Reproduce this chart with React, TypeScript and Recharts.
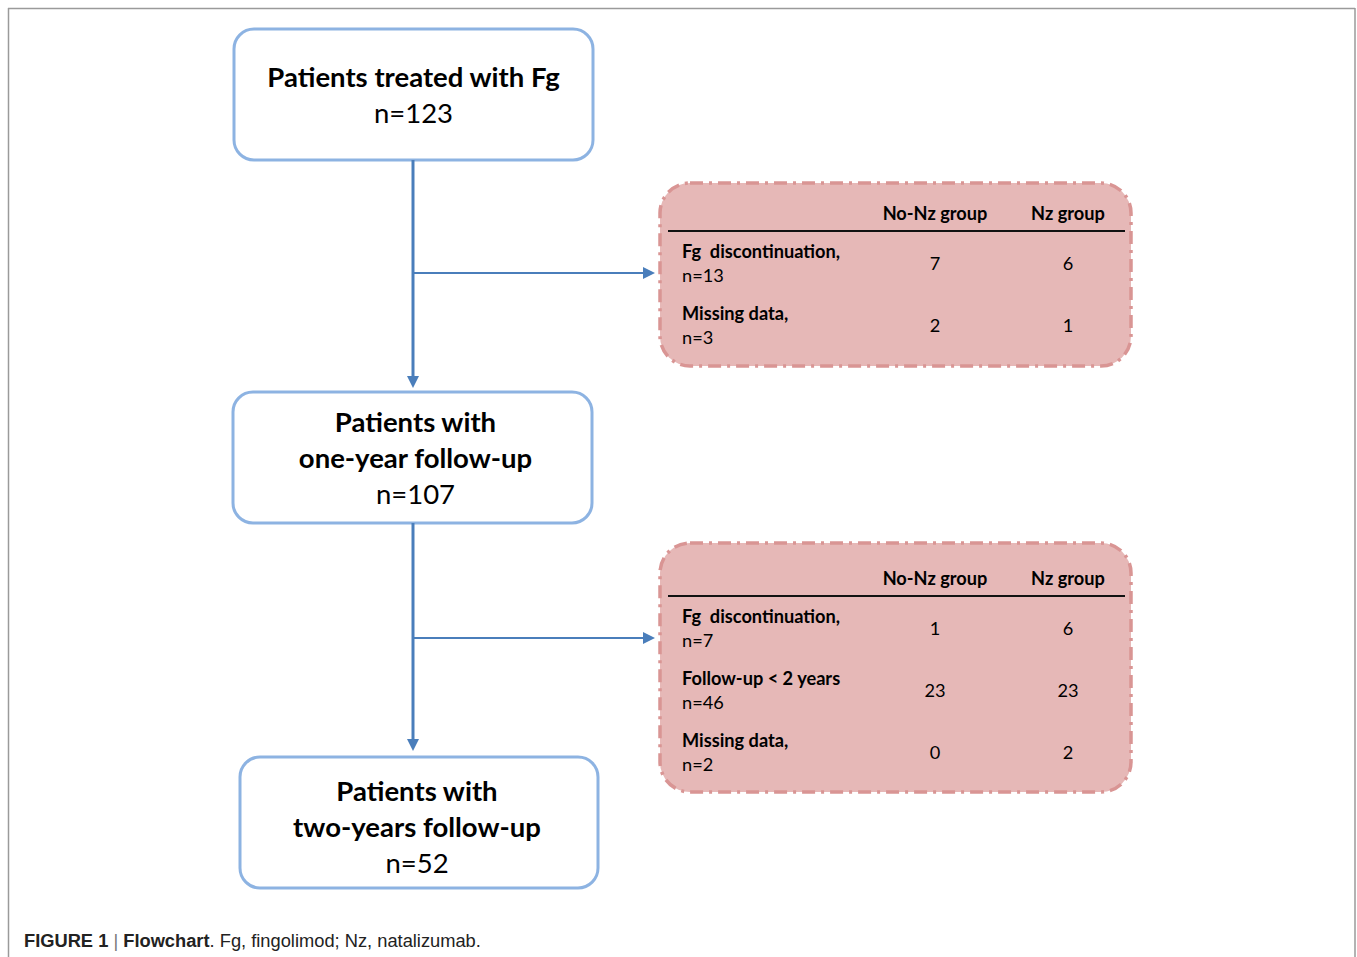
import React from "react";
import {
  ComposedChart,
  XAxis,
  YAxis,
  ReferenceArea,
  ReferenceLine,
  ReferenceDot,
} from "recharts";

// flow boxes
const boxTitles = [
  ["Patients treated with Fg"],
  ["Patients with", "one-year follow-up"],
  ["Patients with", "two-years follow-up"],
];
const boxCounts = [123, 107, 52];

// exclusion tables
const groupHeaders = ["No-Nz group", "Nz group"];
const firstLabels = ["Fg  discontinuation,", "Missing data,"];
const firstCounts = [13, 3];
const firstNoNz = [7, 2];
const firstNz = [6, 1];
const secondLabels = ["Fg  discontinuation,", "Follow-up < 2 years", "Missing data,"];
const secondCounts = [7, 46, 2];
const secondNoNz = [1, 23, 0];
const secondNz = [6, 23, 2];

const caption = ["FIGURE 1", "Flowchart", "Fg, fingolimod; Nz, natalizumab."];

const W = 1357;
const H = 957;
const BOX_FONT = "Lato, 'Open Sans', sans-serif";
const BLUE_BORDER = "#8DB3E2";
const ARROW = "#4A7EBB";
const PINK = "#E6B8B7";
const PINK_BORDER = "#D99594";

const boxLayout = [
  { x1: 234, y1: 29, x2: 593, y2: 160, dx: 0, dy: 0 },
  { x1: 233, y1: 392, x2: 592, y2: 523, dx: 3, dy: 0 },
  { x1: 240, y1: 757, x2: 598, y2: 888, dx: -2, dy: 4 },
];

const tables = [
  { y1: 183, y2: 366, head: 30, labels: firstLabels, counts: firstCounts, noNz: firstNoNz, nz: firstNz },
  { y1: 543, y2: 792, head: 35, labels: secondLabels, counts: secondCounts, noNz: secondNoNz, nz: secondNz },
];
const TX1 = 660;
const TX2 = 1131;
const STEM_X = 413;

// flow box: rounded rect with its centred title lines and count
const flowBox = (i: number) => (p: any) => {
  const b = boxLayout[i];
  const lines = [...boxTitles[i], `n=${boxCounts[i]}`];
  const cx = p.x + p.width / 2 + b.dx;
  const cy = p.y + p.height / 2 + b.dy;
  return (
    <g>
      <rect x={p.x} y={p.y} width={p.width} height={p.height} rx={20} ry={20} fill="#fff" stroke={BLUE_BORDER} strokeWidth={3} />
      {lines.map((ln, j) => (
        <text
          key={j}
          x={cx}
          y={cy + (j - (lines.length - 1) / 2) * 36}
          textAnchor="middle"
          dominantBaseline="central"
          fontFamily={BOX_FONT}
          fontSize={27.5}
          fontWeight={j < lines.length - 1 ? 700 : 400}
          fill="#000"
        >
          {ln}
        </text>
      ))}
    </g>
  );
};

// exclusion table: pink dash-dot rounded rect, header rule, rows
const tableBox = (i: number) => (p: any) => {
  const t = tables[i];
  const hy = p.y + t.head;
  const col1 = p.x + 275;
  const col2 = p.x + 408;
  const lx = p.x + 22;
  return (
    <g fontFamily={BOX_FONT} fontSize={18.2} fill="#000">
      <rect
        x={p.x}
        y={p.y}
        width={p.width}
        height={p.height}
        rx={30}
        ry={30}
        fill={PINK}
        stroke={PINK_BORDER}
        strokeWidth={3.5}
        strokeDasharray="13 6 3 6"
      />
      <line x1={p.x + 8} x2={p.x + p.width - 6} y1={hy + 18} y2={hy + 18} stroke="#111" strokeWidth={2} />
      <text x={col1} y={hy} textAnchor="middle" dominantBaseline="central" fontWeight={700}>
        {groupHeaders[0]}
      </text>
      <text x={col2} y={hy} textAnchor="middle" dominantBaseline="central" fontWeight={700}>
        {groupHeaders[1]}
      </text>
      {t.labels.map((lab, r) => {
        const y = hy + 38 + r * 62;
        return (
          <g key={r}>
            <text x={lx} y={y} dominantBaseline="central" fontWeight={700} style={{ whiteSpace: "pre" }}>
              {lab}
            </text>
            <text x={lx} y={y + 24} dominantBaseline="central">
              {`n=${t.counts[r]}`}
            </text>
            <text x={col1} y={y + 12} textAnchor="middle" dominantBaseline="central">
              {t.noNz[r]}
            </text>
            <text x={col2} y={y + 12} textAnchor="middle" dominantBaseline="central">
              {t.nz[r]}
            </text>
          </g>
        );
      })}
    </g>
  );
};

const arrowHead = (dir: "down" | "right") => (p: any) => {
  const { cx, cy } = p;
  const pts =
    dir === "down"
      ? `${cx - 6},${cy - 12} ${cx + 6},${cy - 12} ${cx},${cy}`
      : `${cx - 12},${cy - 6} ${cx - 12},${cy + 6} ${cx},${cy}`;
  return <polygon points={pts} fill={ARROW} />;
};

export default function App() {
  return (
    <div style={{ position: "absolute", left: 0, top: 0, width: W, height: H, background: "#fff" }}>
      <ComposedChart width={W} height={H} data={[]} margin={{ top: 0, right: 0, bottom: 0, left: 0 }}>
        <XAxis type="number" dataKey="x" domain={[0, W]} allowDataOverflow hide />
        <YAxis type="number" dataKey="y" domain={[0, H]} reversed allowDataOverflow hide />

        {/* figure frame */}
        <ReferenceLine segment={[{ x: 8, y: 8.5 }, { x: 1355, y: 8.5 }]} stroke="#9A9A9A" strokeWidth={1.5} />
        <ReferenceLine segment={[{ x: 8.5, y: 8 }, { x: 8.5, y: H }]} stroke="#9A9A9A" strokeWidth={1.5} />
        <ReferenceLine segment={[{ x: 1355, y: 8 }, { x: 1355, y: H }]} stroke="#9A9A9A" strokeWidth={1.5} />

        {/* vertical connectors */}
        <ReferenceLine segment={[{ x: STEM_X, y: boxLayout[0].y2 }, { x: STEM_X, y: boxLayout[1].y1 - 8 }]} stroke={ARROW} strokeWidth={3} />
        <ReferenceDot x={STEM_X} y={boxLayout[1].y1 - 4} r={1} shape={arrowHead("down")} />
        <ReferenceLine segment={[{ x: STEM_X, y: boxLayout[1].y2 }, { x: STEM_X, y: boxLayout[2].y1 - 11 }]} stroke={ARROW} strokeWidth={3} />
        <ReferenceDot x={STEM_X} y={boxLayout[2].y1 - 6} r={1} shape={arrowHead("down")} />

        {/* side arrows */}
        {tables.map((t, i) => (
          <ReferenceLine
            key={`ha-${i}`}
            segment={[{ x: STEM_X, y: t.y1 + t.head + 60 }, { x: TX1 - 10, y: t.y1 + t.head + 60 }]}
            stroke={ARROW}
            strokeWidth={2}
          />
        ))}
        {tables.map((t, i) => (
          <ReferenceDot key={`hd-${i}`} x={TX1 - 5} y={t.y1 + t.head + 60} r={1} shape={arrowHead("right")} />
        ))}

        {/* flow boxes */}
        {boxLayout.map((b, i) => (
          <ReferenceArea key={`box-${i}`} x1={b.x1} x2={b.x2} y1={b.y1} y2={b.y2} shape={flowBox(i)} />
        ))}

        {/* exclusion tables */}
        {tables.map((t, i) => (
          <ReferenceArea key={`tbl-${i}`} x1={TX1} x2={TX2} y1={t.y1} y2={t.y2} shape={tableBox(i)} />
        ))}

        <text
          x={24}
          y={940}
          dominantBaseline="central"
          fontFamily="'Liberation Sans Narrow', 'Liberation Sans', Arial, sans-serif"
          fontSize={18.3}
          fill="#222"
        >
          <tspan fontWeight={700}>{caption[0]}</tspan>
          <tspan fill="#777">{" | "}</tspan>
          <tspan fontWeight={700}>{caption[1]}</tspan>
          <tspan>{`. ${caption[2]}`}</tspan>
        </text>
      </ComposedChart>
    </div>
  );
}
